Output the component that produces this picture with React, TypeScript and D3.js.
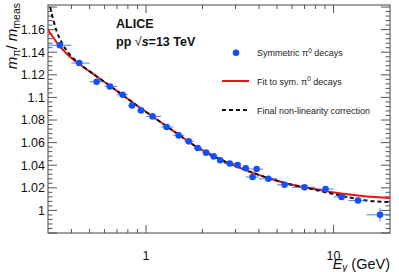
import React from "react";
import * as d3 from "d3";

// ---- data ----
const pointE = [0.347, 0.44, 0.545, 0.642, 0.75, 0.842, 0.94, 1.084, 1.288, 1.493, 1.688, 1.886, 2.09, 2.294, 2.487, 2.795, 3.08, 3.4, 3.89, 3.7, 4.49, 5.48, 7.0, 9.06, 11.03, 13.5, 17.7];
const pointLo = [0.3, 0.4, 0.5, 0.6, 0.7, 0.8, 0.9, 1.0, 1.2, 1.4, 1.6, 1.8, 2.0, 2.2, 2.4, 2.6, 3.0, 3.2, 3.6, 3.4, 4.0, 5.0, 6.0, 8.0, 10.0, 12.0, 15.0];
const pointHi = [0.4, 0.5, 0.6, 0.7, 0.8, 0.9, 1.0, 1.2, 1.4, 1.6, 1.8, 2.0, 2.2, 2.4, 2.6, 3.0, 3.2, 3.6, 4.2, 4.0, 5.0, 6.0, 8.0, 10.0, 12.0, 15.0, 20.0];
const pointVal = [1.1462, 1.1304, 1.1139, 1.1097, 1.1024, 1.0929, 1.0885, 1.0832, 1.0738, 1.0664, 1.0611, 1.0552, 1.0511, 1.0478, 1.0444, 1.0415, 1.0402, 1.0373, 1.0366, 1.0296, 1.028, 1.0227, 1.0204, 1.0189, 1.0119, 1.0087, 0.9961];
const pointErr = [0.0015, 0.0012, 0.0012, 0.001, 0.001, 0.001, 0.001, 0.001, 0.001, 0.001, 0.001, 0.001, 0.001, 0.001, 0.001, 0.001, 0.001, 0.001, 0.0012, 0.0012, 0.0012, 0.0012, 0.0015, 0.0015, 0.002, 0.003, 0.006];

const fitE = [0.297, 0.342, 0.386, 0.436, 0.563, 0.72, 0.921, 1.178, 1.506, 1.926, 2.315, 2.785, 3.348, 4.026, 4.842, 5.822, 7.0, 8.42, 10.12, 12.17, 14.64, 20.0];
const fitVal = [1.161, 1.1464, 1.1371, 1.13, 1.117, 1.1042, 1.0913, 1.0789, 1.0666, 1.0546, 1.0475, 1.0415, 1.0361, 1.0312, 1.0269, 1.0232, 1.0205, 1.0181, 1.0158, 1.014, 1.0125, 1.0109];

const corrE = [0.2936, 0.3073, 0.3199, 0.3332, 0.3542, 0.3847, 0.4142, 0.4405, 0.563, 0.72, 0.921, 1.178, 1.506, 1.926, 2.315, 2.785, 3.348, 4.026, 4.842, 5.822, 7.0, 8.42, 10.12, 12.17, 14.64, 20.0];
const corrVal = [1.1918, 1.1805, 1.1688, 1.159, 1.1489, 1.1396, 1.1338, 1.1301, 1.117, 1.1042, 1.0913, 1.0789, 1.0666, 1.0546, 1.0475, 1.0415, 1.0361, 1.0312, 1.0269, 1.0232, 1.0204, 1.0173, 1.0143, 1.0114, 1.009, 1.0073];

const yMajorTicks = [1, 1.02, 1.04, 1.06, 1.08, 1.1, 1.12, 1.14, 1.16];
const yTickLabels = ["1", "1.02", "1.04", "1.06", "1.08", "1.1", "1.12", "1.14", "1.16"];
const xMajorTicks = [1, 10];
const xTickLabels = ["1", "10"];
const xMinorTicks = [0.4, 0.5, 0.6, 0.7, 0.8, 0.9, 2, 3, 4, 5, 6, 7, 8, 9];

const legendLabels = ["Symmetric π", "Fit to sym. π", "Final non-linearity correction"];

const W = 399, H = 272;
const L = 48, R = 390, T = 5, B = 233;

const BLUE = "#1450fa";
const RED = "#ee1111";
const FONT = "'Liberation Sans', Arial, Helvetica, sans-serif";

export default function App() {
  const x = d3.scaleLog().domain([0.3, 20]).range([L, R]);
  const y = d3.scaleLinear().domain([0.98, 1.1818]).range([B, T]);
  const yMinor = d3.range(0, 51).map((i) => 0.98 + i * 0.004).filter((v) => v < 1.182);

  const line = d3
    .line<[number, number]>()
    .x((d) => x(d[0]))
    .y((d) => y(d[1]))
    .curve(d3.curveMonotoneX);
  const fitPath = line(fitE.map((e, i) => [e, fitVal[i]]) as [number, number][]) || "";
  const corrPath = line(corrE.map((e, i) => [e, corrVal[i]]) as [number, number][]) || "";

  return (
    <svg
      width={W}
      height={H}
      style={{ position: "absolute", left: 0, top: 0, background: "#fff" }}
      fontFamily={FONT}
    >
      <defs>
        <clipPath id="plotclip">
          <rect x={L} y={T} width={R - L} height={B - T} />
        </clipPath>
      </defs>
      <rect x={0} y={0} width={W} height={H} fill="#fff" />

      {/* axes ticks */}
      <g stroke="#555" strokeWidth={1}>
        {yMinor.map((v, i) => {
          const isMajor = Math.abs(((v - 0.98) / 0.02) - Math.round((v - 0.98) / 0.02)) < 1e-6;
          const len = isMajor ? 9 : 4.5;
          return (
            <g key={"ym" + i}>
              <line x1={L} x2={L + len} y1={y(v)} y2={y(v)} />
              <line x1={R} x2={R - len} y1={y(v)} y2={y(v)} />
            </g>
          );
        })}
        {xMinorTicks.map((v, i) => (
          <g key={"xm" + i}>
            <line x1={x(v)} x2={x(v)} y1={B} y2={B - 4} />
            <line x1={x(v)} x2={x(v)} y1={T} y2={T + 4} />
          </g>
        ))}
        {xMajorTicks.map((v, i) => (
          <g key={"xM" + i}>
            <line x1={x(v)} x2={x(v)} y1={B} y2={B - 8} />
            <line x1={x(v)} x2={x(v)} y1={T} y2={T + 8} />
          </g>
        ))}
      </g>
      <rect x={L} y={T} width={R - L} height={B - T} fill="none" stroke="#555" strokeWidth={1.1} />

      {/* tick labels */}
      <g fontSize={12.5} fill="#111">
        {yMajorTicks.map((v, i) => (
          <text key={"yl" + i} x={45} y={y(v) + 4.4} textAnchor="end">
            {yTickLabels[i]}
          </text>
        ))}
        {xMajorTicks.map((v, i) => (
          <text key={"xl" + i} x={x(v)} y={259.5} textAnchor="middle">
            {xTickLabels[i]}
          </text>
        ))}
      </g>

      {/* axis titles */}
      <text x={390} y={268.5} textAnchor="end" fontSize={14.5} fill="#111">
        <tspan fontStyle="italic">E</tspan>
        <tspan fontSize={10} dy={2.5} fontStyle="italic">γ</tspan>
        <tspan dy={-2.5}> (GeV)</tspan>
      </text>
      <text transform="translate(17,3) rotate(-90)" textAnchor="end" fontSize={15} fill="#111">
        <tspan fontStyle="italic">m</tspan>
        <tspan fontSize={10.5} dy={2.5}>π</tspan>
        <tspan dy={-2.5}>/ </tspan>
        <tspan fontStyle="italic">m</tspan>
        <tspan fontSize={10.5} dy={2.5}>meas</tspan>
      </text>

      {/* curves */}
      <g clipPath="url(#plotclip)">
        <path d={fitPath} fill="none" stroke={RED} strokeWidth={2} />
        <path d={corrPath} fill="none" stroke="#111" strokeWidth={2} strokeDasharray="4,3" />
      </g>

      {/* data points */}
      <g clipPath="url(#plotclip)">
        {pointE.map((e, i) => (
          <g key={"p" + i} stroke={BLUE} strokeWidth={1} opacity={0.75}>
            <line x1={x(pointLo[i])} x2={x(pointHi[i])} y1={y(pointVal[i])} y2={y(pointVal[i])} />
            <line x1={x(e)} x2={x(e)} y1={y(pointVal[i] - pointErr[i])} y2={y(pointVal[i] + pointErr[i])} />
          </g>
        ))}
        {pointE.map((e, i) => (
          <circle key={"c" + i} cx={x(e)} cy={y(pointVal[i])} r={3.3} fill={BLUE} />
        ))}
      </g>

      {/* ALICE label */}
      <g fontSize={12.5} fontWeight="bold" fill="#111">
        <text x={116} y={27.5}>ALICE</text>
        <text x={116} y={46}>
          <tspan>pp </tspan>
          <tspan fontWeight="normal">√</tspan>
          <tspan fontStyle="italic">s</tspan>
          <tspan>=13 TeV</tspan>
        </text>
      </g>

      {/* legend */}
      <g fontSize={9} fill="#222">
        <circle cx={236} cy={52.7} r={3.3} fill={BLUE} />
        <text x={257} y={56}>
          {legendLabels[0]}
          <tspan fontSize={6.5} dy={-3.5}>0</tspan>
          <tspan dy={3.5}> decays</tspan>
        </text>
        <line x1={222} x2={249} y1={81} y2={81} stroke={RED} strokeWidth={2} />
        <text x={257} y={84.5}>
          {legendLabels[1]}
          <tspan fontSize={6.5} dy={-3.5}>0</tspan>
          <tspan dy={3.5}> decays</tspan>
        </text>
        <line x1={222} x2={249} y1={110} y2={110} stroke="#111" strokeWidth={2} strokeDasharray="4,3" />
        <text x={257} y={113.5}>{legendLabels[2]}</text>
      </g>
    </svg>
  );
}
